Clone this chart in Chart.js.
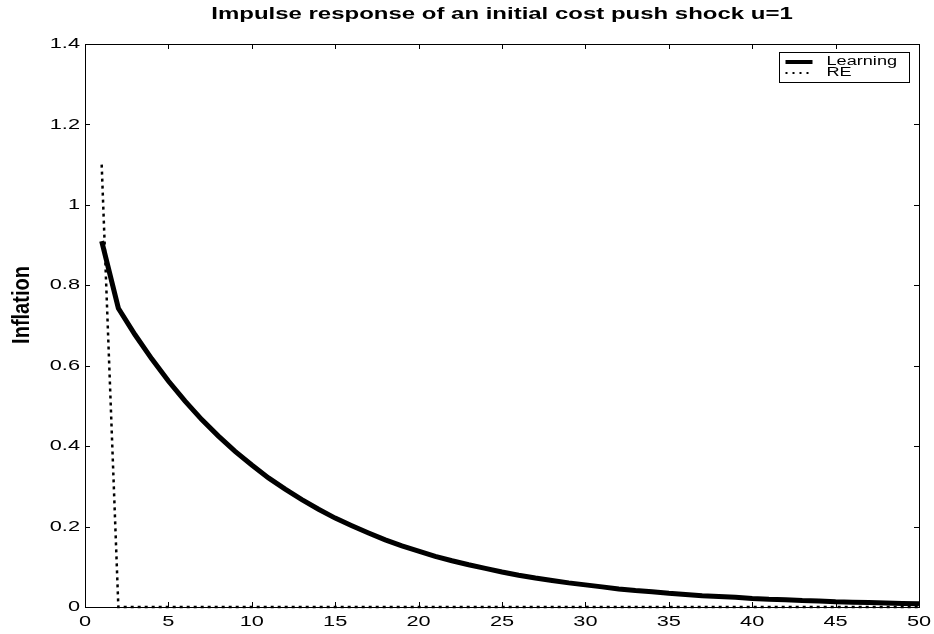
<!DOCTYPE html>
<html>
<head>
<meta charset="utf-8">
<script src="https://cdn.jsdelivr.net/npm/chart.js@4/dist/chart.umd.min.js"></script>
<style>
  html, body { margin: 0; padding: 0; background: #fff; }
  #wrap { width: 934px; height: 634px; }
</style>
</head>
<body>
<div id="wrap"><canvas id="myChart"></canvas></div>
<script>
// periods 1..50
var periodos = [];
for (var i = 1; i <= 50; i++) periodos.push(i);

var learning = [0.91, 0.743, 0.677, 0.617, 0.562, 0.512, 0.466, 0.425, 0.387, 0.353,
                0.321, 0.293, 0.267, 0.243, 0.221, 0.202, 0.184, 0.167, 0.152, 0.139,
                0.126, 0.115, 0.105, 0.096, 0.087, 0.079, 0.072, 0.066, 0.060, 0.055,
                0.050, 0.045, 0.041, 0.038, 0.034, 0.031, 0.028, 0.026, 0.024, 0.021,
                0.019, 0.018, 0.016, 0.015, 0.013, 0.012, 0.011, 0.010, 0.009, 0.008];

var re = [1.1, 0, 0, 0, 0, 0, 0, 0, 0, 0,
          0, 0, 0, 0, 0, 0, 0, 0, 0, 0,
          0, 0, 0, 0, 0, 0, 0, 0, 0, 0,
          0, 0, 0, 0, 0, 0, 0, 0, 0, 0,
          0, 0, 0, 0, 0, 0, 0, 0, 0, 0];

var xTicks = [0, 5, 10, 15, 20, 25, 30, 35, 40, 45, 50];
var yTicks = [0, 0.2, 0.4, 0.6, 0.8, 1, 1.2, 1.4];

var titulo = 'Impulse response of an initial cost push shock u=1';
var tituloY = 'Inflation';

var FAM = '"Liberation Sans", Arial, sans-serif';
var K = 1.45; // the picture is stretched sideways, text too

function pares(xs, ys) {
    return xs.map(function (x, k) { return { x: x, y: ys[k] }; });
}

function texto(ctx, s, x, y, align, font, k, rot) {
    ctx.save();
    ctx.translate(x, y);
    ctx.scale(k, 1);
    if (rot) ctx.rotate(rot);
    ctx.font = font;
    ctx.textAlign = align;
    ctx.textBaseline = 'middle';
    ctx.fillStyle = '#000';
    ctx.fillText(s, 0, 0);
    ctx.restore();
}

// box + inward ticks, matlab style, labels, boxed legend
var marco = {
    id: 'marco',
    afterDatasetsDraw: function (chart) {
        var ctx = chart.ctx, a = chart.chartArea;
        var sx = chart.scales.x, sy = chart.scales.y;
        ctx.save();
        ctx.strokeStyle = '#000';
        ctx.lineWidth = 1;
        ctx.beginPath();
        xTicks.forEach(function (t) {
            var px = Math.round(sx.getPixelForValue(t)) + 0.5;
            ctx.moveTo(px, a.bottom); ctx.lineTo(px, a.bottom - 5);
            ctx.moveTo(px, a.top); ctx.lineTo(px, a.top + 5);
        });
        yTicks.forEach(function (t) {
            var py = Math.round(sy.getPixelForValue(t)) + 0.5;
            ctx.moveTo(a.left, py); ctx.lineTo(a.left + 5, py);
            ctx.moveTo(a.right, py); ctx.lineTo(a.right - 5, py);
        });
        ctx.stroke();
        ctx.strokeRect(Math.round(a.left) + 0.5, Math.round(a.top) + 0.5,
                       Math.round(a.right - a.left), Math.round(a.bottom - a.top));

        var fTick = '15px ' + FAM;
        xTicks.forEach(function (t) {
            texto(ctx, String(t), sx.getPixelForValue(t), a.bottom + 15, 'center', fTick, K);
        });
        yTicks.forEach(function (t) {
            texto(ctx, String(Math.round(t * 10) / 10), a.left - 5, sy.getPixelForValue(t), 'right', fTick, K);
        });

        texto(ctx, titulo, (a.left + a.right) / 2, 14, 'center', 'bold 17px ' + FAM, 1.41);
        texto(ctx, tituloY, 22, 305, 'center', 'bold 20px ' + FAM, 1.2, -Math.PI / 2);

        // legend
        var lx = 779.5, ly = 52.5, lw = 130, lh = 30;
        ctx.fillStyle = '#fff';
        ctx.fillRect(lx, ly, lw, lh);
        ctx.strokeStyle = '#000';
        ctx.lineWidth = 1;
        ctx.strokeRect(lx, ly, lw, lh);
        chart.data.datasets.forEach(function (ds, k) {
            var yy = ly + 9.5 + k * 11;
            ctx.beginPath();
            ctx.strokeStyle = ds.borderColor;
            ctx.lineWidth = k === 0 ? 4 : 2;
            ctx.setLineDash(k === 0 ? [] : [2, 5]);
            ctx.moveTo(lx + 6, yy); ctx.lineTo(lx + 33, yy);
            ctx.stroke();
            ctx.setLineDash([]);
            texto(ctx, ds.label, lx + 47, yy, 'left', '12.5px ' + FAM, K);
        });
        ctx.restore();
    }
};

var ctx = document.getElementById('myChart');

var myChart = new Chart(ctx, {
    type: 'line',
    data: {
        datasets: [{
            label: 'Learning',
            data: pares(periodos, learning),
            borderColor: '#000',
            borderWidth: 5,
            pointRadius: 0,
            fill: false,
            clip: false
        }, {
            label: 'RE',
            data: pares(periodos, re),
            borderColor: '#000',
            borderWidth: 2.5,
            borderDash: [3, 4],
            pointRadius: 0,
            fill: false,
            clip: false
        }]
    },
    plugins: [marco],
    options: {
        responsive: true,
        maintainAspectRatio: false,
        animation: false,
        layout: { padding: { left: 0, right: 15, top: 44, bottom: 0 } },
        plugins: {
            legend: { display: false },
            tooltip: { enabled: false },
            title: { display: false }
        },
        scales: {
            x: {
                type: 'linear',
                min: 0,
                max: 50,
                grid: { display: false, drawTicks: false },
                border: { display: false },
                afterBuildTicks: function (s) { s.ticks = xTicks.map(function (v) { return { value: v }; }); },
                afterFit: function (s) { s.height = 27; },
                ticks: { display: false }
            },
            y: {
                min: 0,
                max: 1.4,
                grid: { display: false, drawTicks: false },
                border: { display: false },
                afterBuildTicks: function (s) { s.ticks = yTicks.map(function (v) { return { value: v }; }); },
                afterFit: function (s) { s.width = 85; },
                ticks: { display: false }
            }
        }
    }
});
</script>
</body>
</html>
